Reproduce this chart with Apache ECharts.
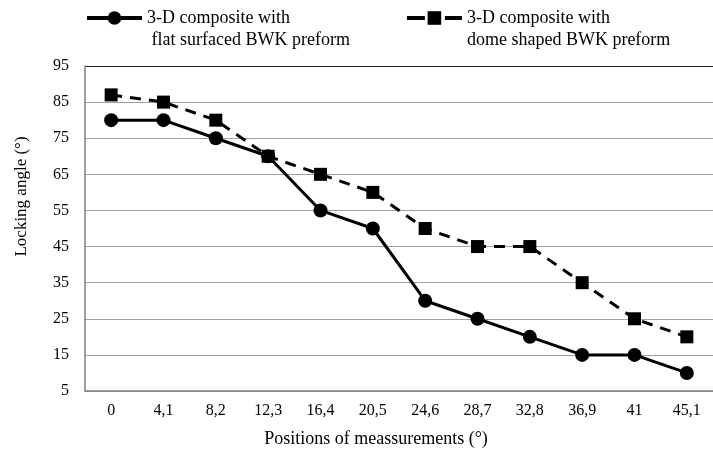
<!DOCTYPE html>
<html>
<head>
<meta charset="utf-8">
<script src="https://cdn.jsdelivr.net/npm/echarts@6/dist/echarts.min.js"></script>
<style>html,body{margin:0;padding:0;background:#fff;}#c{width:713px;height:453px;}</style>
</head>
<body>
<div id="c"></div>
<script>
const categories = ['0','4,1','8,2','12,3','16,4','20,5','24,6','28,7','32,8','36,9','41','45,1'];
const flatValues = [80,80,75,70,55,50,30,25,20,15,15,10];
const domeValues = [87,85,80,70,65,60,50,45,45,35,25,20];
const flatName = '3-D composite with\n flat surfaced BWK preform';
const domeName = '3-D composite with\ndome shaped BWK preform';

const font = 'Liberation Serif';
const chart = echarts.init(document.getElementById('c'), null, {renderer:'canvas'});
const gridColors = ['#a0a0a0','#a0a0a0','#a0a0a0','#a0a0a0','#a0a0a0','#a0a0a0','#a0a0a0','#a0a0a0','#a0a0a0','#222'];
chart.setOption({
  animation:false,
  textStyle:{fontFamily:font, color:'#000'},
  legend:{
    top:-15, left:85, padding:0,
    itemGap:55,
    itemWidth:55, itemHeight:17,
    formatter: function(n){ return '\n' + n; },
    textStyle:{fontFamily:font, fontSize:18, color:'#000', lineHeight:22},
    data:[
      {name:flatName, lineStyle:{type:'solid', width:4, color:'#000'}},
      {name:domeName, lineStyle:{type:[18,20,17], width:4, color:'#000'}}
    ]
  },
  grid:{left:85, right:-6, top:66, bottom:61},
  xAxis:{
    type:'category', data:categories, boundaryGap:true,
    name:'Positions of meassurements (°)', nameLocation:'middle', nameGap:39,
    nameTextStyle:{fontFamily:font, fontSize:18, color:'#000', padding:[0,46,0,0]},
    axisLine:{lineStyle:{color:'#808080', width:1.5}},
    axisTick:{show:false},
    axisLabel:{fontFamily:font, fontSize:16, color:'#000', margin:12}
  },
  yAxis:{
    type:'value', min:5, max:95, interval:10,
    name:'Locking angle (°)', nameLocation:'middle', nameGap:55, nameRotate:90,
    nameTextStyle:{fontFamily:font, fontSize:17, color:'#000', padding:[0,0,0,64]},
    axisLine:{show:true, lineStyle:{color:'#808080', width:1.5}},
    axisTick:{show:false},
    axisLabel:{fontFamily:font, fontSize:16, color:'#000', margin:16},
    splitLine:{lineStyle:{color:gridColors, width:1}}
  },
  series:[
    {name:flatName, type:'line', data:flatValues, symbol:'circle', symbolSize:14,
     lineStyle:{color:'#000', width:3}, itemStyle:{color:'#000'}},
    {name:domeName, type:'line', data:domeValues, symbol:'rect', symbolSize:13,
     lineStyle:{color:'#000', width:3, type:[11,8]}, itemStyle:{color:'#000'}}
  ]
});
</script>
</body>
</html>
